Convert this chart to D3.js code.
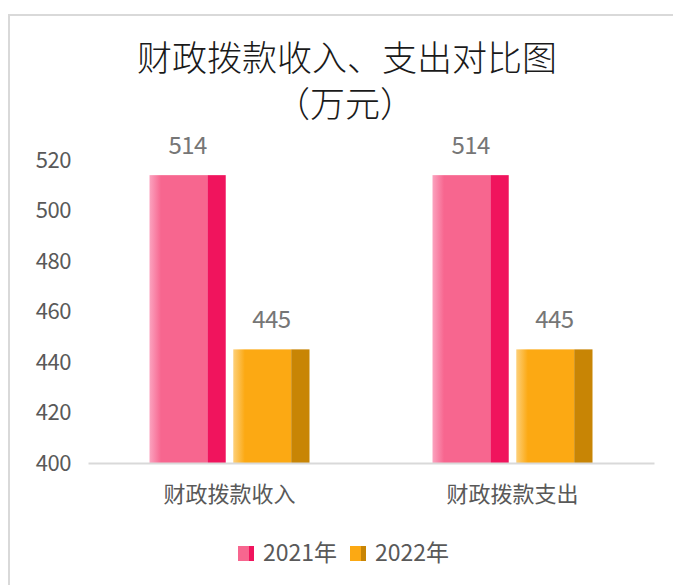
<!DOCTYPE html>
<html>
<head>
<meta charset="utf-8">
<script src="https://cdn.jsdelivr.net/npm/d3@7"></script>
<style>
  body { margin: 0; background: #fff; }
  svg text { font-family: "Noto Sans CJK SC", "Noto Sans", sans-serif; }
</style>
</head>
<body>
<div id="chart"></div>
<script>
// chart data
var categories = ["财政拨款收入", "财政拨款支出"];
var seriesNames = ["2021年", "2022年"];
var values2021 = [514, 514];
var values2022 = [445, 445];
var yTicks = [400, 420, 440, 460, 480, 500, 520];

var W = 673, H = 585;
var margin = { top: 160, right: 19, bottom: 122, left: 88 },
    width = W - margin.left - margin.right,
    height = H - margin.top - margin.bottom;

var colors = [
    { front: "#f7668f", light: "#fba3bf", side: "#f0145d" },
    { front: "#fca913", light: "#fdd07a", side: "#c88505" }
];

var svg = d3.select('#chart').append('svg')
    .attr("width", W)
    .attr("height", H);

// outer chart border
svg.append("rect")
    .attr("x", 9).attr("y", 15)
    .attr("width", W + 20).attr("height", H + 20)
    .attr("fill", "#fff")
    .attr("stroke", "#d9d9d9")
    .attr("stroke-width", 2);

// gradients for the front faces
var defs = svg.append("defs");
colors.forEach(function(c, i) {
    var g = defs.append("linearGradient").attr("id", "grad" + i)
        .attr("x1", "0").attr("x2", "1").attr("y1", "0").attr("y2", "0");
    g.append("stop").attr("offset", "0").attr("stop-color", c.light);
    g.append("stop").attr("offset", "0.2").attr("stop-color", c.front);
    g.append("stop").attr("offset", "1").attr("stop-color", c.front);
});

// title, two lines
var titleLines = [
    { text: "财政拨款收入、支出对比图", x: 347, y: 71 },
    { text: "（万元）", x: 345, y: 117 }
];
svg.selectAll(".title")
    .data(titleLines)
    .enter().append("text")
    .attr("class", "title")
    .attr("x", function(d) { return d.x; })
    .attr("y", function(d) { return d.y; })
    .attr("text-anchor", "middle")
    .attr("font-size", "35px").attr("fill", "#1a1a1a")
    .attr("font-weight", 300)
    .text(function(d) { return d.text; });

var g = svg.append("g")
    .attr("transform", "translate(" + margin.left + "," + margin.top + ")");

var x0 = d3.scaleBand()
    .domain(categories)
    .range([0, width]);

var x1 = d3.scaleBand()
    .domain(seriesNames)
    .range([0, 160])
    .paddingInner(0.09);

var y = d3.scaleLinear()
    .domain([400, 520])
    .range([height, 0]);

// y axis labels
var yAxis = g.append("g")
    .call(d3.axisLeft(y).tickValues(yTicks).tickSize(0).tickPadding(17));
yAxis.select(".domain").remove();
yAxis.selectAll("text")
    .attr("font-size", "22px")
    .attr("fill", "#595959")
    .attr("letter-spacing", "-0.5px")
    .attr("font-family", "\"Noto Sans\", sans-serif");

var series = [values2021, values2022];

var groups = g.selectAll(".grp")
    .data(categories)
    .enter().append("g")
    .attr("class", "grp")
    .attr("transform", function(d) {
        return "translate(" + (x0(d) + x0.bandwidth() / 2 - 80) + ",0)";
    });

seriesNames.forEach(function(s, si) {
    var bw = x1.bandwidth();
    var sideW = bw * 0.24;
    groups.append("rect")
        .attr("x", x1(s))
        .attr("y", function(d, ci) { return y(series[si][ci]); })
        .attr("width", bw - sideW)
        .attr("height", function(d, ci) { return height - y(series[si][ci]); })
        .attr("fill", "url(#grad" + si + ")");
    groups.append("rect")
        .attr("x", x1(s) + bw - sideW)
        .attr("y", function(d, ci) { return y(series[si][ci]); })
        .attr("width", sideW)
        .attr("height", function(d, ci) { return height - y(series[si][ci]); })
        .attr("fill", colors[si].side);
    groups.append("text")
        .text(function(d, ci) { return series[si][ci]; })
        .attr("x", x1(s) + bw / 2)
        .attr("y", function(d, ci) { return y(series[si][ci]) - 21; })
        .attr("text-anchor", "middle")
        .attr("font-size", "24px")
        .attr("letter-spacing", "-0.5px")
        .attr("fill", "#767676")
        .attr("font-family", "\"Noto Sans\", sans-serif");
});

// x axis
var xAxis = g.append("g")
    .attr("transform", "translate(0," + height + ")")
    .call(d3.axisBottom(x0).tickSize(0).tickPadding(22));
xAxis.select(".domain").attr("stroke", "#d9d9d9").attr("stroke-width", 2);
xAxis.selectAll("text")
    .attr("font-size", "22px")
    .attr("fill", "#595959")
    .attr("dy", "0.75em");

// legend
var legend = svg.append("g").attr("transform", "translate(238,553)");
var lx = [0, 112];
seriesNames.forEach(function(s, i) {
    var it = legend.append("g").attr("transform", "translate(" + lx[i] + ",0)");
    it.append("rect").attr("x", 0).attr("y", -7).attr("width", 11).attr("height", 15).attr("fill", colors[i].front);
    it.append("rect").attr("x", 11).attr("y", -7).attr("width", 5).attr("height", 15).attr("fill", colors[i].side);
    it.append("text").attr("x", 25).attr("y", 0).attr("dy", "0.36em")
        .attr("font-size", "23px").attr("fill", "#595959").text(s);
});
</script>
</body>
</html>
